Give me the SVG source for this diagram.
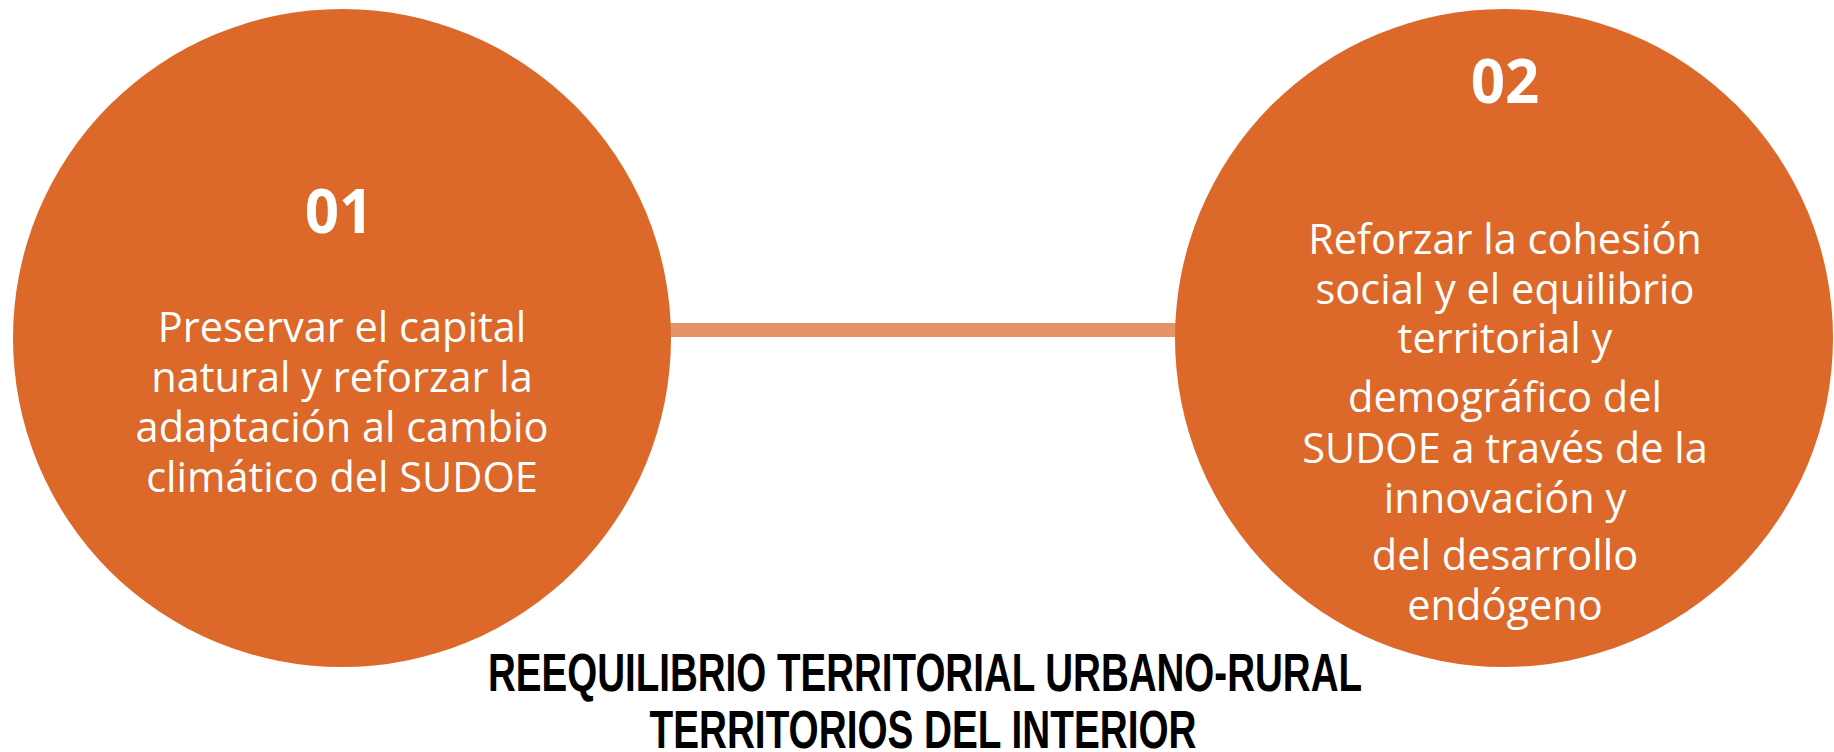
<svg xmlns="http://www.w3.org/2000/svg" width="1834" height="752" viewBox="0 0 1834 752">
  <style>
    .circle { fill: #DC6829; }
    .num { font-family: "Open Sans", "Liberation Sans", sans-serif; font-weight: bold; font-size: 60px; fill: #FFFFFF; text-anchor: middle; }
    .body { font-family: "Open Sans", "Liberation Sans", sans-serif; font-size: 41.5px; fill: #FFFFFF; text-anchor: middle; }
    .title { font-family: "Liberation Sans", Arial, sans-serif; font-weight: bold; font-size: 54px; fill: #000000; text-anchor: middle; }
    .link { stroke: #E59565; stroke-width: 14; fill: none; }
  </style>
  <rect width="1834" height="752" fill="#FFFFFF"/>
  <g id="connectors">
    <line class="link" x1="660" y1="330" x2="1186" y2="330"/>
  </g>
  <g id="node-01">
    <circle class="circle" cx="342" cy="338" r="329"/>
    <text class="num" x="339" y="233">01</text>
    <text class="body" x="342" y="342">Preservar el capital</text>
    <text class="body" x="342" y="392">natural y reforzar la</text>
    <text class="body" x="342" y="442">adaptación al cambio</text>
    <text class="body" x="342" y="492">climático del SUDOE</text>
  </g>
  <g id="node-02">
    <circle class="circle" cx="1504" cy="338" r="329"/>
    <text class="num" x="1505" y="103">02</text>
    <text class="body" x="1505" y="254">Reforzar la cohesión</text>
    <text class="body" x="1505" y="304">social y el equilibrio</text>
    <text class="body" x="1505" y="353">territorial y</text>
    <text class="body" x="1505" y="412">demográfico del</text>
    <text class="body" x="1505" y="463">SUDOE a través de la</text>
    <text class="body" x="1505" y="513">innovación y</text>
    <text class="body" x="1505" y="570">del desarrollo</text>
    <text class="body" x="1505" y="620">endógeno</text>
  </g>
  <g id="title">
    <text class="title" x="925" y="691" textLength="874" lengthAdjust="spacingAndGlyphs">REEQUILIBRIO TERRITORIAL URBANO-RURAL</text>
    <text class="title" x="923" y="748" textLength="547" lengthAdjust="spacingAndGlyphs">TERRITORIOS DEL INTERIOR</text>
  </g>
</svg>
